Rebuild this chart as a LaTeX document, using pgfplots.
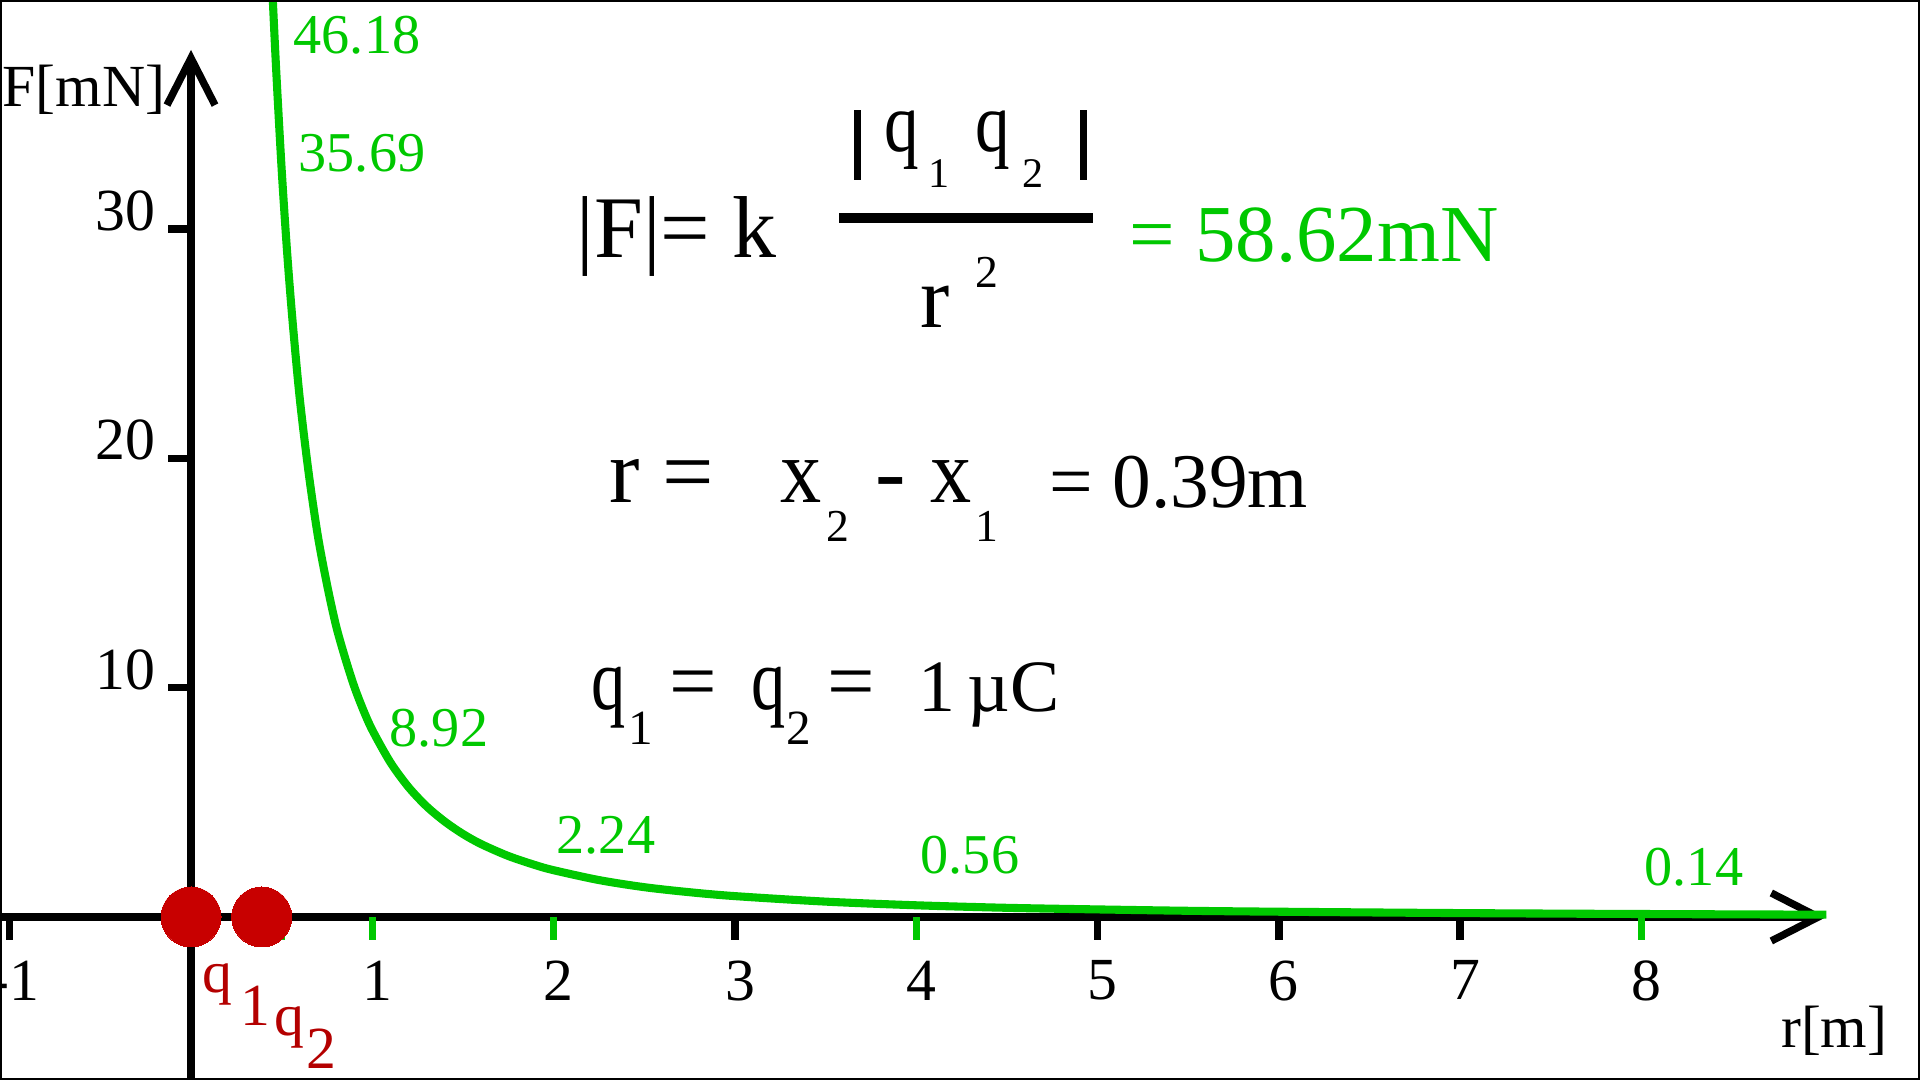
\documentclass[border=0pt]{standalone}
\usepackage{fontspec}
\setmainfont{Liberation Serif}
\usepackage{pgfplots}
\pgfplotsset{compat=1.18}
\usetikzlibrary{arrows.meta}
\definecolor{cgreen}{RGB}{0,200,0}
\definecolor{cred}{RGB}{200,0,0}
\definecolor{cdark}{RGB}{180,0,0}
\newcommand\fs[1]{\fontsize{#1}{#1}\selectfont}
\newcommand\nq{\scalebox{0.82}[1]{q}}

\begin{document}
\begin{tikzpicture}
\path[use as bounding box, clip] (0,0) rectangle (19.2cm,10.8cm);
\begin{axis}[
    at={(0,0)}, anchor=south west,
    scale only axis,
    width=18.264cm, height=10.30cm,
    xmin=-1.0535, xmax=9.02, ymin=-7.109, ymax=37.81,
    axis lines=middle,
    axis line style={line width=2.1pt, -{Straight Barb[length=4.7mm,width=4.8mm]}},
    clip=false,
    xtick={-1,3,5,6,7},
    xticklabels={-1,3,5,6,7},
    ytick={10,20,30},
    yticklabels={10,20,30},
    tick align=outside,
    major tick length=2.3mm,
    tick style={line width=2.1pt, black},
    extra x ticks={0.5,1,2,4,8},
    extra x tick labels={,1,2,4,8},
    extra x tick style={tick style={color=cgreen, line width=2.1pt}},
    ticklabel style={font=\fs{17}, inner sep=0pt, text=black},
    xticklabel style={anchor=north, xshift=0.5mm, yshift=-2.0mm},
    yticklabel style={anchor=east, xshift=-1.2mm, yshift=1.8mm},
]
% force between the charges
\addplot[cgreen, line width=2.3pt, smooth] coordinates {
    (0.44,42.1) (0.45,40.2) (0.47,36.9) (0.50,32.6) (0.53,29.0) (0.56,26.0)
    (0.60,22.6) (0.65,19.3) (0.70,16.6) (0.75,14.5) (0.80,12.7) (0.85,11.3)
    (0.90,10.06) (0.95,9.03) (1.00,8.15) (1.10,6.74) (1.20,5.66) (1.30,4.82)
    (1.40,4.16) (1.50,3.62) (1.60,3.18) (1.75,2.66) (1.90,2.26) (2.00,2.04)
    (2.25,1.61) (2.50,1.30) (2.75,1.08) (3.00,0.91) (3.50,0.67) (4.00,0.51)
    (4.50,0.40) (5.00,0.33) (5.50,0.27) (6.00,0.23) (7.00,0.17) (8.00,0.13)
    (9.02,0.10)
};
% the two charges
\addplot[only marks, mark=*, mark size=3mm, cred, mark options={line width=0pt}]
    coordinates {(0,0) (0.39,0)};
\end{axis}

\draw[line width=0.2mm] (0.1mm,0.1mm) rectangle (19.19cm,10.79cm);

% text, placed in pixel units of the 1920x1080 picture
\begin{scope}[x=0.1mm, y=-0.1mm, shift={(0,10.8cm)},
    every node/.style={inner sep=0pt, anchor=base west}]
  \node[font=\fs{17}] at (2,107) {F[mN]};
  \node[font=\fs{17}, anchor=base east] at (1888,1047) {r[m]};

  \begin{scope}[cdark, every node/.append style={font=\fs{17}}]
    \node at (202,992) {q};
    \node at (240,1025) {1};
    \node at (274,1035) {q};
    \node at (306,1068) {2};
  \end{scope}

  \begin{scope}[cgreen, every node/.append style={font=\fs{16}}]
    \node at (293,54) {46.18};
    \node at (298,172) {35.69};
    \node at (389,747) {8.92};
    \node at (556,853) {2.24};
    \node at (920,873) {0.56};
    \node at (1644,885) {0.14};
  \end{scope}

  % Coulomb's law
  \node[font=\fs{25}] at (576,258) {|F|= k};
  \fill (854,110) rectangle (861,180);
  \fill (1080,110) rectangle (1087,180);
  \node[font=\fs{24}] at (884,152) {\nq};
  \node[font=\fs{12}] at (928,188) {1};
  \node[font=\fs{24}] at (975,152) {\nq};
  \node[font=\fs{12}] at (1022,188) {2};
  \fill (839,213) rectangle (1093,223);
  \node[font=\fs{25}] at (920,328) {r};
  \node[font=\fs{13}] at (975,288) {2};
  \node[font=\fs{23}, cgreen] at (1129,262) {= 58.62mN};

  % distance
  \node[font=\fs{26}] at (609,503) {r =};
  \node[font=\fs{26}] at (780,503) {\scalebox{0.9}[1]{x}};
  \node[font=\fs{13}] at (826,542) {2};
  \node[font=\fs{26}] at (875,503) {-};
  \node[font=\fs{26}] at (930,503) {\scalebox{0.9}[1]{x}};
  \node[font=\fs{13}] at (975,542) {1};
  \node[font=\fs{22}] at (1049,508) {= 0.39m};

  % charges
  \node[font=\fs{25}] at (591,710) {\scalebox{0.78}[1]{q}};
  \node[font=\fs{14}] at (628,745) {1};
  \node[font=\fs{24}] at (669,710) {=};
  \node[font=\fs{25}] at (751,710) {\scalebox{0.78}[1]{q}};
  \node[font=\fs{14}] at (786,745) {2};
  \node[font=\fs{24}] at (827,710) {=};
  \node[font=\fs{21}] at (918,712) {1\,µC};
\end{scope}
\end{tikzpicture}
\end{document}
